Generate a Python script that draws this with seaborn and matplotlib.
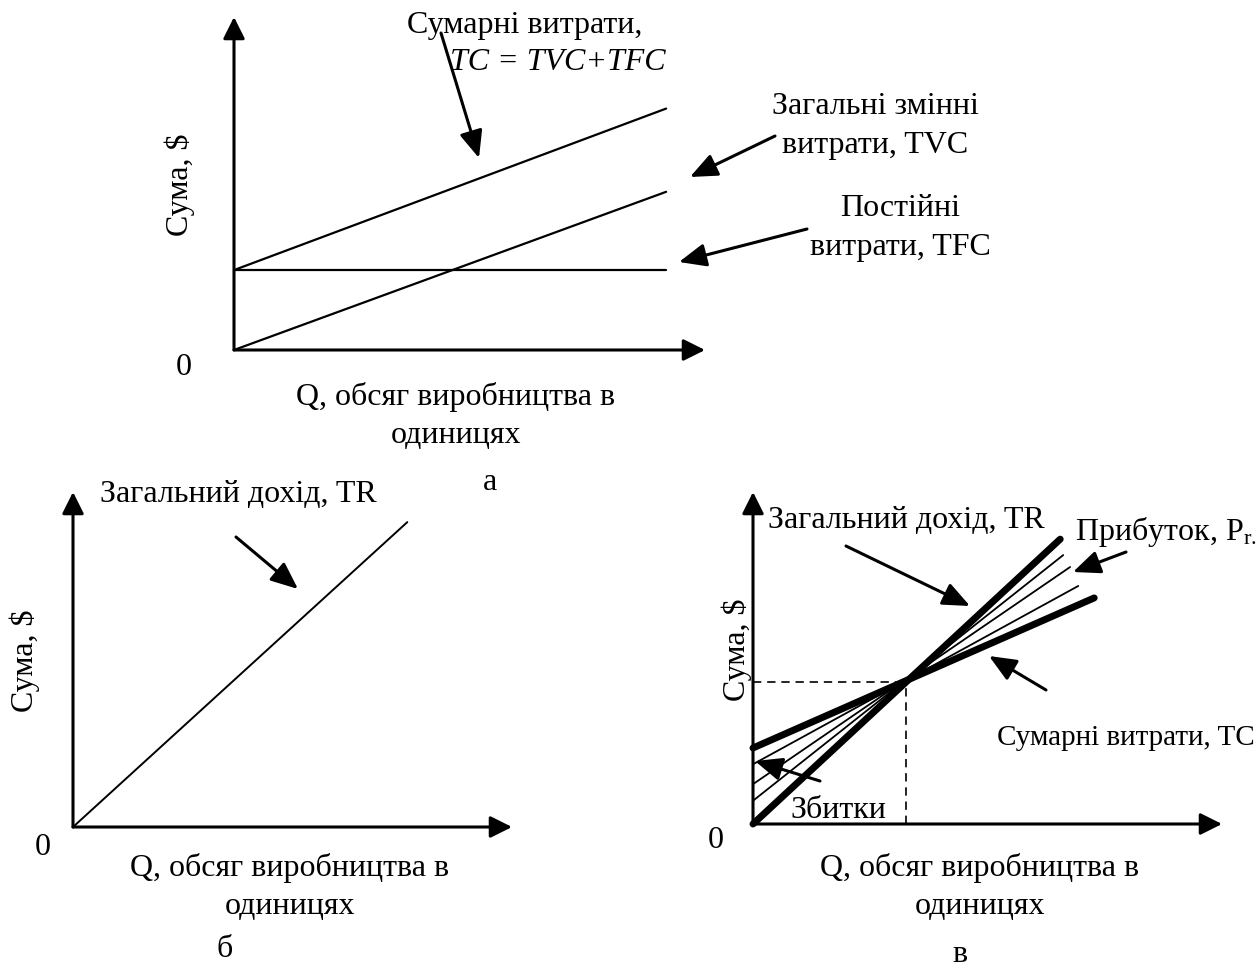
import numpy as np
import pandas as pd
import seaborn as sns
import matplotlib.pyplot as plt

# Дані (умовні одиниці)
# Рисунок а: витрати
q_a = [0.0, 10.0]
tfc_a = [2.4, 2.4]
tvc_a = [0.0, 4.75]
tc_a = [2.4, 7.25]

# Рисунок б: загальний дохід
q_b = [0.0, 8.3]
tr_b = [0.0, 9.1]

# Рисунок в: точка беззбитковості
q_tr_c = [0.0, 7.14]
tr_c = [0.0, 8.58]
q_tc_c = [0.0, 7.93]
tc_c = [2.29, 6.81]
q_thin_c = [[0.0, 7.21], [0.0, 7.37], [0.0, 7.56]]
thin_c = [[0.7, 8.10], [1.2, 7.74], [1.8, 7.17]]
q_be = 3.56
amount_be = 4.28

X_MAX = 10.9
Y_MAX = 10.0

sns.set_theme(style='white')
plt.rcParams['font.family'] = ['Liberation Serif', 'DejaVu Serif']
plt.rcParams['mathtext.fontset'] = 'custom'
plt.rcParams['mathtext.rm'] = 'Liberation Serif'
plt.rcParams['mathtext.it'] = 'Liberation Serif:italic'

W, H = 1259, 970
FS = 23
fig = plt.figure(figsize=(W / 100, H / 100), dpi=100)
fig.patch.set_facecolor('white')


def make_axes(x0, y0, x1, y1):
    # x0, y0 - початок координат (пікселі), x1, y1 - кінці стрілок осей
    ax = fig.add_axes([x0 / W, 1 - y0 / H, (x1 - x0) / W, (y0 - y1) / H])
    ax.set_xlim(0, X_MAX)
    ax.set_ylim(0, Y_MAX)
    ax.set_axis_off()
    head = '-|>,head_length=0.6,head_width=0.3'
    for xy in [(X_MAX, 0), (0, Y_MAX)]:
        ax.annotate('', xy=xy, xytext=(0, 0), xycoords='data',
                    arrowprops=dict(arrowstyle=head, color='black', lw=2.2,
                                    mutation_scale=22, shrinkA=0, shrinkB=0),
                    annotation_clip=False)
    return ax


def txt(x, y, s, ha='center', size=FS, **kw):
    fig.text(x / W, 1 - y / H, s, ha=ha, va='center', fontsize=size, color='black', **kw)


def arrow(ax, x0, y0, x1, y1):
    ax.annotate('', xy=(x1, H - y1), xytext=(x0, H - y0), xycoords='figure pixels',
                arrowprops=dict(arrowstyle='-|>,head_length=0.75,head_width=0.32',
                                color='black', lw=2.2, mutation_scale=22,
                                shrinkA=0, shrinkB=0),
                annotation_clip=False)


def line(ax, x, y, lw, **kw):
    sns.lineplot(x=x, y=y, ax=ax, color='black', linewidth=lw, sort=False,
                 estimator=None, errorbar=None, **kw)
    for l in ax.lines:
        l.set_clip_on(False)


# ---- Рисунок а ----
ax_a = make_axes(234, 351, 705, 18)
line(ax_a, q_a, tfc_a, 1.6)
line(ax_a, q_a, tvc_a, 1.6)
line(ax_a, q_a, tc_a, 1.6)

txt(525, 25, 'Сумарні витрати,')
txt(558, 63, 'TC = TVC+TFC', fontstyle='italic')
arrow(ax_a, 441, 34, 479, 159)
txt(875, 106, 'Загальні змінні')
txt(875, 145, 'витрати, TVC')
arrow(ax_a, 775, 137, 690, 178)
txt(900, 208, 'Постійні')
txt(900, 247, 'витрати, TFC')
arrow(ax_a, 807, 230, 679, 263)
txt(184, 368, '0')
txt(180, 185, 'Сума, $', rotation=90)
txt(456, 397, 'Q, обсяг виробництва в')
txt(456, 436, 'одиницях')
txt(490, 483, 'а')

# ---- Рисунок б ----
ax_b = make_axes(73, 828, 512, 493)
line(ax_b, q_b, tr_b, 1.4)

txt(100, 495, 'Загальний дохід, TR', ha='left')
arrow(ax_b, 236, 538, 298, 590)
txt(43, 848, '0')
txt(25, 661, 'Сума, $', rotation=90)
txt(290, 868, 'Q, обсяг виробництва в')
txt(290, 907, 'одиницях')
txt(225, 950, 'б')

# ---- Рисунок в ----
ax_c = make_axes(753, 825, 1222, 493)
line(ax_c, q_tr_c, tr_c, 5.0)
line(ax_c, q_tc_c, tc_c, 5.0)
for qq, vv in zip(q_thin_c, thin_c):
    line(ax_c, qq, vv, 1.3)
line(ax_c, [0.0, q_be], [amount_be, amount_be], 1.2, linestyle=(0, (5, 3.5)))
line(ax_c, [q_be, q_be], [0.0, amount_be], 1.2, linestyle=(0, (5, 3.5)))

txt(768, 520, 'Загальний дохід, TR', ha='left')
arrow(ax_c, 846, 547, 970, 607)
txt(1257, 532, 'Прибуток, P$_{\\mathrm{r.}}$', ha='right')
arrow(ax_c, 1126, 553, 1073, 573)
txt(1255, 738, 'Сумарні витрати, TC', ha='right', size=21)
arrow(ax_c, 1046, 691, 989, 657)
txt(838, 810, 'Збитки')
arrow(ax_c, 820, 782, 755, 762)
txt(716, 840, '0')
txt(737, 650, 'Сума, $', rotation=90)
txt(980, 868, 'Q, обсяг виробництва в')
txt(980, 907, 'одиницях')
txt(960, 955, 'в')

fig.savefig('out.png', dpi=100, facecolor='white')
